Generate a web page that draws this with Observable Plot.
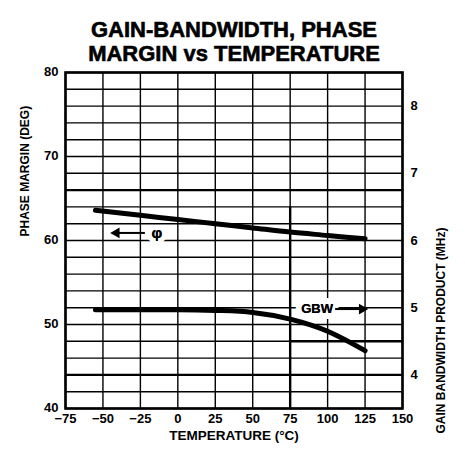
<!DOCTYPE html>
<html>
<head>
<meta charset="utf-8">
<script src="https://cdn.jsdelivr.net/npm/d3@7"></script>
<script src="https://cdn.jsdelivr.net/npm/@observablehq/plot@0.6"></script>
<style>
  html, body { margin: 0; padding: 0; background: #fff; }
</style>
</head>
<body>
<div id="chart"></div>
<script>
// ---- data ----
const titleLines = ["GAIN-BANDWIDTH, PHASE", "MARGIN vs TEMPERATURE"];
const xLabel = "TEMPERATURE (°C)";
const yLabelLeft = "PHASE MARGIN (DEG)";
const yLabelRight = "GAIN BANDWIDTH PRODUCT (MHz)";

const xTicks = [-75, -50, -25, 0, 25, 50, 75, 100, 125, 150];
const yTicks = [40, 50, 60, 70, 80];
const yGrid = [40, 42, 44, 46, 48, 50, 52, 54, 56, 58, 60, 62, 64, 66, 68, 70, 72, 74, 76, 78, 80];
const gbwTicks = [4, 5, 6, 7, 8];

// phase margin (deg) vs temperature
const phaseTemp = [-55, -25, 0, 25, 50, 75, 100, 125];
const phaseVal  = [63.6, 63.0, 62.5, 62.0, 61.5, 61.0, 60.6, 60.2];

// gain-bandwidth (MHz) vs temperature
const gbwTemp = [-55, -25, 0, 25, 50, 75, 100, 125];
const gbwVal  = [4.97, 4.97, 4.97, 4.96, 4.93, 4.83, 4.65, 4.36];

// right axis mapping: GBW (MHz) -> phase-margin axis units
const gbwToY = g => 8 * g + 12;

const phaseData = phaseTemp.map((t, i) => ({t, v: phaseVal[i]}));
const gbwData = gbwTemp.map((t, i) => ({t, v: gbwToY(gbwVal[i])}));

// annotations
const phiLabel = [{t: -14, v: 60.9, text: "φ"}];
const phiArrow = [{t1: -22, t2: -40, v: 60.9}];
const phiHead = [{t: -41, v: 60.9}];
const gbwLabel = [{t: 93, v: gbwToY(4.98), text: "GBW"}];
const gbwArrow = [{t1: 105, t2: 122, v: gbwToY(4.98)}];
const gbwHead = [{t: 123, v: gbwToY(4.98)}];

const font = "'Liberation Sans', Arial, Helvetica, sans-serif";

const chart = Plot.plot({
  width: 465,
  height: 456,
  marginLeft: 65,
  marginRight: 63,
  marginTop: 72,
  marginBottom: 48,
  style: {fontFamily: font, fontWeight: "bold", fontSize: "13px", color: "#000", background: "#fff"},
  x: {domain: [-75, 150]},
  y: {domain: [40, 80]},
  marks: [
    Plot.ruleY(yGrid, {stroke: "#000", strokeWidth: 1.4}),
    Plot.ruleX(xTicks, {stroke: "#000", strokeWidth: 1.4}),
    Plot.ruleY([66, 44], {stroke: "#000", strokeWidth: 2.4}),
    Plot.ruleY([48], {x1: 75, x2: 150, stroke: "#000", strokeWidth: 2.4}),
    Plot.ruleX([75], {y1: 40, y2: 64, stroke: "#000", strokeWidth: 2.4}),
    Plot.frame({stroke: "#000", strokeWidth: 2.6}),
    Plot.line(phaseData, {x: "t", y: "v", stroke: "#000", strokeWidth: 5, curve: "monotone-x"}),
    Plot.line(gbwData, {x: "t", y: "v", stroke: "#000", strokeWidth: 5, curve: "monotone-x"}),
    Plot.text(phiLabel, {x: "t", y: "v", text: "text", fontSize: 15, fontWeight: "bold", fill: "#000", stroke: "#fff", strokeWidth: 10}),
    Plot.text(phiLabel, {x: "t", y: "v", text: "text", fontSize: 15, fontWeight: "bold", fill: "#000"}),
    Plot.link(phiArrow, {x1: "t1", x2: "t2", y1: "v", y2: "v", stroke: "#000", strokeWidth: 2}),
    Plot.dot(phiHead, {x: "t", y: "v", symbol: "triangle", rotate: -90, r: 4, fill: "#000", stroke: null}),
    Plot.text(gbwLabel, {x: "t", y: "v", text: "text", fontSize: 13, fontWeight: "bold", fill: "#000", stroke: "#fff", strokeWidth: 12}),
    Plot.text(gbwLabel, {x: "t", y: "v", text: "text", fontSize: 13, fontWeight: "bold", fill: "#000"}),
    Plot.link(gbwArrow, {x1: "t1", x2: "t2", y1: "v", y2: "v", stroke: "#000", strokeWidth: 2}),
    Plot.dot(gbwHead, {x: "t", y: "v", symbol: "triangle", rotate: 90, r: 4, fill: "#000", stroke: null}),
    Plot.axisX({ticks: xTicks, tickSize: 0, tickPadding: 5, label: null, fontSize: 13, fontWeight: "bold"}),
    Plot.axisY({ticks: yTicks, tickSize: 0, tickPadding: 7, label: null, fontSize: 13, fontWeight: "bold", dy: -1}),
    Plot.axisY({anchor: "right", ticks: gbwTicks.map(gbwToY), tickFormat: d => String((d - 12) / 8), tickSize: 0, tickPadding: 8, label: null, fontSize: 13, fontWeight: "bold"}),
    Plot.text([yLabelLeft], {frameAnchor: "left", dx: -40, dy: -4, rotate: -90, text: d => d, fontSize: 12, fontWeight: "bold", fill: "#000"}),
    Plot.text([yLabelRight], {frameAnchor: "right", dx: 39, dy: -13, rotate: -90, text: d => d, fontSize: 12, fontWeight: "bold", fill: "#000"}),
    Plot.text([xLabel], {frameAnchor: "bottom", dy: 31, text: d => d, fontSize: 13.5, fontWeight: "bold", fill: "#000"}),
    Plot.text([titleLines[0]], {frameAnchor: "top", dy: -51, text: d => d, fontSize: 22, fontWeight: "bold", fill: "#000", stroke: "#000", strokeWidth: 0.6}),
    Plot.text([titleLines[1]], {frameAnchor: "top", dy: -27, text: d => d, fontSize: 22, fontWeight: "bold", fill: "#000", stroke: "#000", strokeWidth: 0.6})
  ]
});
document.getElementById("chart").append(chart);
</script>
</body>
</html>
